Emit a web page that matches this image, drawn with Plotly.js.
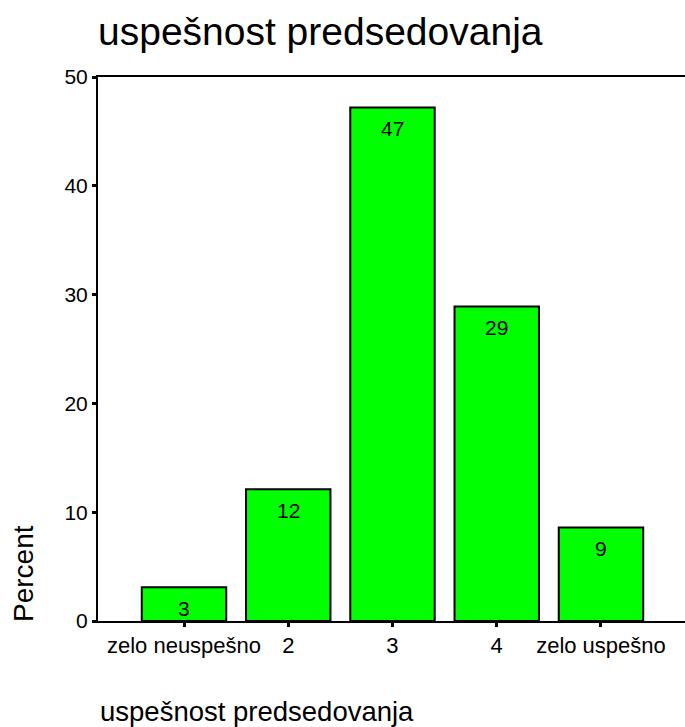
<!DOCTYPE html>
<html>
<head>
<meta charset="utf-8">
<script src="https://cdn.plot.ly/plotly-3.0.1.min.js"></script>
<style>html,body{margin:0;padding:0;background:#fff;}#chart{width:685px;height:727px;}</style>
</head>
<body>
<div id="chart"></div>
<script>
var categories = ["zelo neuspešno", "2", "3", "4", "zelo uspešno"];
var percents = [3.1, 12.1, 47.2, 28.9, 8.6];
var yTicks = [0, 10, 20, 30, 40, 50];
var chartTitle = "uspešnost predsedovanja";
var xTitle = "uspešnost predsedovanja";
var yTitle = "Percent";

var font = "Arial, 'Liberation Sans', sans-serif";

var trace = {
  type: "bar",
  x: categories,
  y: percents,
  marker: {color: "#00ff00", line: {color: "#000000", width: 2}},
  hoverinfo: "none"
};

var annotations = categories.map(function (c, i) {
  return {
    x: i, y: percents[i], xref: "x", yref: "y",
    text: String(Math.round(percents[i])),
    showarrow: false, yshift: -21, yanchor: "middle",
    font: {family: font, size: 21, color: "#000"}
  };
});
annotations.push({
  xref: "paper", yref: "paper", x: -0.128, y: 0.088,
  text: yTitle, textangle: -90, showarrow: false,
  xanchor: "center", yanchor: "middle",
  font: {family: font, size: 28, color: "#000"}
});
annotations.push({
  xref: "paper", yref: "paper", x: 0, y: -0.167,
  text: xTitle, showarrow: false,
  xanchor: "left", yanchor: "middle",
  font: {family: font, size: 27.5, color: "#000"}
});

var layout = {
  width: 685, height: 727,
  margin: {l: 98, r: 0, t: 77, b: 106, pad: 0},
  paper_bgcolor: "#fff", plot_bgcolor: "#fff",
  showlegend: false,
  bargap: 0.19,
  title: {
    text: chartTitle, xref: "paper", x: 0, xanchor: "left",
    yref: "container", y: 0.957, yanchor: "middle",
    font: {family: font, size: 39, color: "#000"}
  },
  xaxis: {
    type: "category",
    range: [-0.825, 4.806],
    showgrid: false, zeroline: false,
    showline: true, linecolor: "#000", linewidth: 2, mirror: true,
    ticks: "outside", ticklen: 4, tickwidth: 3, tickcolor: "#000",
    tickfont: {family: font, size: 22, color: "#000"}
  },
  yaxis: {
    range: [0, 50],
    tickvals: yTicks,
    showgrid: false, zeroline: false,
    showline: true, linecolor: "#000", linewidth: 2,
    ticks: "outside", ticklen: 4, tickwidth: 3, tickcolor: "#000",
    tickfont: {family: font, size: 21, color: "#000"}
  },
  annotations: annotations
};

Plotly.newPlot("chart", [trace], layout, {displayModeBar: false, staticPlot: true});
</script>
</body>
</html>
